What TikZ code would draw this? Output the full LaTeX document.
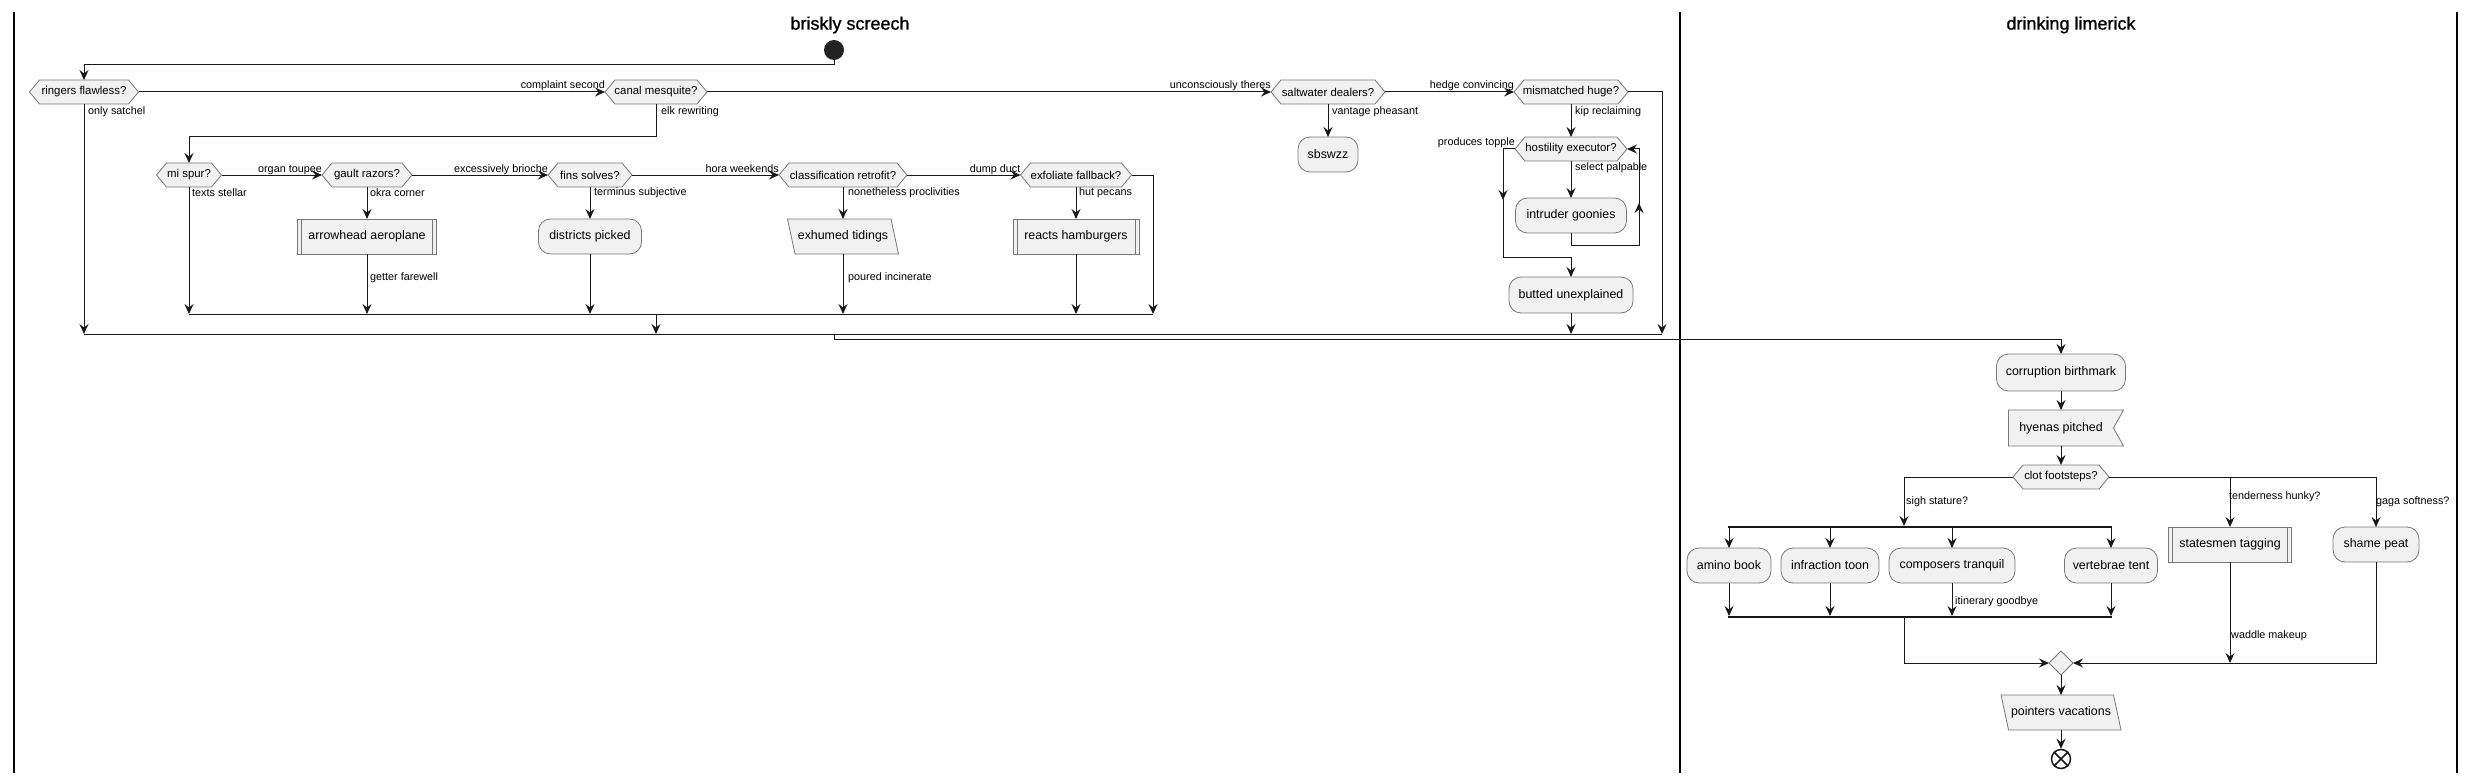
\documentclass[tikz,border=0pt]{standalone}
\usepackage{fontspec}
\setmainfont{Liberation Sans}
\newfontfamily\ttlfont[FakeBold=0.9]{Liberation Sans}
\usetikzlibrary{arrows.meta,backgrounds}
\definecolor{nfill}{HTML}{F1F1F1}
\definecolor{nline}{HTML}{181818}
\definecolor{nborder}{HTML}{777777}
\definecolor{startc}{HTML}{222222}
\tikzset{
 base/.style={inner sep=0pt, outer sep=0pt, align=center},
 actfont/.style={font=\fontsize{12.4}{14}\selectfont},
 act/.style={base, actfont, rectangle, rounded corners=12pt, draw=nborder, fill=nfill, line width=0.8pt, minimum height=35pt},
 sub/.style={base, actfont, rectangle, draw=nborder, fill=nfill, line width=0.8pt, minimum height=35pt},
 plainbox/.style={base, actfont, rectangle, minimum height=35pt},
 dec/.style={base, rectangle, minimum height=24pt, font=\fontsize{11.4}{13}\selectfont},
 shp/.style={draw=nborder, fill=nfill, line width=0.8pt},
 shpline/.style={draw=nborder, line width=0.8pt},
 lbl/.style={inner sep=0pt, font=\fontsize{10.8}{12}\selectfont},
 arr/.style={draw=nline, line width=1pt, -{Stealth[length=10pt,width=9pt,inset=3.5pt]}},
 ln/.style={draw=nline, line width=1pt},
 bar/.style={draw=nline, line width=2.2pt},
 lane/.style={draw=black, line width=1.5pt},
 ttl/.style={font=\ttlfont\fontsize{18}{21}\selectfont, inner sep=0pt},
}
\newcommand{\hexa}[4]{%
  \node[dec, minimum width=#3] (#1) at #2 {#4};
  \begin{pgfonlayer}{background}
  \path[shp] (#1.west) -- ([xshift=10pt]#1.north west) -- ([xshift=-10pt]#1.north east) -- (#1.east) -- ([xshift=-10pt]#1.south east) -- ([xshift=10pt]#1.south west) -- cycle;
  \end{pgfonlayer}}
\newcommand{\para}[4]{%
  \node[plainbox, minimum width=#3] (#1) at #2 {#4};
  \begin{pgfonlayer}{background}
  \path[shp] (#1.north west) -- ([xshift=-7.5pt]#1.north east) -- (#1.south east) -- ([xshift=7.5pt]#1.south west) -- cycle;
  \end{pgfonlayer}}
\newcommand{\subr}[4]{%
  \node[sub, minimum width=#3] (#1) at #2 {#4};
  \draw[shpline] ([xshift=4pt]#1.north west) -- ([xshift=4pt]#1.south west) ([xshift=-4pt]#1.north east) -- ([xshift=-4pt]#1.south east);}
\begin{document}
\begin{tikzpicture}[x=1pt,y=-1pt]
\useasboundingbox (0,0) rectangle (2474,781);
% lanes
\draw[lane] (14,12) -- (14,773);
\draw[lane] (1680,12) -- (1680,773);
\draw[lane] (2457,12) -- (2457,773);
\node[ttl] (t1) at (850,25) {briskly screech};
\node[ttl] (t2) at (2071,25) {drinking limerick};
% left lane nodes
\node[circle, fill=startc, minimum size=20pt, inner sep=0pt] (start) at (834,50) {};
\hexa{rf}{(84,92)}{109}{ringers flawless?}
\hexa{cm}{(656,92)}{102}{canal mesquite?}
\hexa{sd}{(1328,92)}{114}{saltwater dealers?}
\hexa{mh}{(1571,92)}{114}{mismatched huge?}
\hexa{he}{(1571,149)}{112}{hostility executor?}
\node[act, minimum width=60pt] (sb) at (1328,154.5) {sbswzz};
\node[act, minimum width=111pt] (ig) at (1571,215.5) {intruder goonies};
\node[act, minimum width=124pt, minimum height=36pt] (bu) at (1571,295) {butted unexplained};
\hexa{ms}{(189,175)}{65}{mi spur?}
\hexa{gr}{(367,175)}{90}{gault razors?}
\hexa{fs}{(590,175)}{84}{fins solves?}
\hexa{cr}{(843,175)}{128}{classification retrofit?}
\hexa{ef}{(1076,175)}{111}{exfoliate fallback?}
\subr{aa}{(367,236.5)}{139}{arrowhead aeroplane}
\node[act, minimum width=103pt] (dp) at (590,236.5) {districts picked};
\para{et}{(843,236.5)}{111}{exhumed tidings}
\subr{rh}{(1076,236.5)}{126}{reacts hamburgers}
% right lane nodes
\node[act, minimum width=129pt, minimum height=37pt] (cb) at (2061,372.5) {corruption birthmark};
\node[plainbox, minimum width=105pt, minimum height=36pt] (hp) at (2061,428) {hyenas pitched};
\begin{pgfonlayer}{background}
\path[shp] (hp.north west) -- ([xshift=10pt]hp.north east) -- (hp.east) -- ([xshift=10pt]hp.south east) -- (hp.south west) -- cycle;
\end{pgfonlayer}
\hexa{cf}{(2061,477)}{96}{clot footsteps?}
\node[act, minimum width=84pt] (ab) at (1729,565.5) {amino book};
\node[act, minimum width=98pt] (it) at (1830,565.5) {infraction toon};
\node[act, minimum width=126pt] (ct) at (1952,565.5) {composers tranquil};
\node[act, minimum width=93pt] (vt) at (2111,565.5) {vertebrae tent};
\subr{st}{(2230,544.5)}{123}{statesmen tagging}
\node[act, minimum width=86pt] (sp) at (2376,544.5) {shame peat};
\node[base, minimum width=24pt, minimum height=24pt] (md) at (2061,663) {};
\begin{pgfonlayer}{background}
\path[shp] (md.west) -- (md.north) -- (md.east) -- (md.south) -- cycle;
\end{pgfonlayer}
\para{pv}{(2061,712.5)}{120}{pointers vacations}
\node[circle, draw=nline, fill=white, line width=1.5pt, minimum size=19pt, inner sep=0pt] (end) at (2061,759) {};
\draw[draw=nline, line width=1.5pt] (end.north west) -- (end.south east) (end.north east) -- (end.south west);
% junction coordinates
\coordinate (m1) at (189,314);
\coordinate (m1e) at (1153,314);
\coordinate (m2) at (84,334);
\coordinate (m2e) at (1662,334);
\coordinate (fk1) at (1728,527);
\coordinate (fk2) at (2112,527);
\coordinate (jn1) at (1728,617);
\coordinate (jn2) at (2112,617);
% connectors left lane
\draw[arr] (start.south) -- (834,65) -| (rf.north);
\draw[arr] (rf.east) -- (cm.west);
\draw[arr] (rf.south) -- (m2);
\draw[arr] (cm.south) -- (656,137) -| (ms.north);
\draw[arr] (cm.east) -- (sd.west);
\draw[arr] (sd.south) -- (sb.north);
\draw[arr] (sd.east) -- (mh.west);
\draw[arr] (mh.east) -- (1662,92) -- (m2e);
\draw[arr] (mh.south) -- (he.north);
\draw[arr] (he.south) -- (ig.north);
\draw[arr] (ig.south) -- (1571,245) -- (1639,245) -- (1639,203);
\draw[arr] (1639,204) -- (1639,149) -- (he.east);
\draw[arr] (he.west) -- (1503,149) -- (1503,200);
\draw[arr] (1503,199) -- (1503,257) -- (1571,257) -- (bu.north);
\draw[arr] (bu.south) -- (1571,334);
\draw[arr] (ms.east) -- (gr.west);
\draw[arr] (ms.south) -- (m1);
\draw[arr] (gr.south) -- (aa.north);
\draw[arr] (aa.south) -- (367,314);
\draw[arr] (gr.east) -- (fs.west);
\draw[arr] (fs.south) -- (dp.north);
\draw[arr] (dp.south) -- (590,314);
\draw[arr] (fs.east) -- (cr.west);
\draw[arr] (cr.south) -- (et.north);
\draw[arr] (et.south) -- (843,314);
\draw[arr] (cr.east) -- (ef.west);
\draw[arr] (ef.south) -- (rh.north);
\draw[arr] (rh.south) -- (1076,314);
\draw[arr] (ef.east) -- (1153,175) -- (m1e);
\draw[ln] (m1) -- (m1e);
\draw[arr] (656,314) -- (656,334);
\draw[ln] (m2) -- (m2e);
\draw[arr] (834,334) -- (834,339) -- (2061,339) -- (cb.north);
% connectors right lane
\draw[arr] (cb.south) -- (hp.north);
\draw[arr] (hp.south) -- (cf.north);
\draw[arr] (cf.west) -| (1904,526);
\draw[arr] (cf.east) -| (sp.north);
\draw[arr] (2230,477) -- (st.north);
\draw[bar] (fk1) -- (fk2);
\draw[arr] (1729,528) -- (ab.north);
\draw[arr] (1830,528) -- (it.north);
\draw[arr] (1952,528) -- (ct.north);
\draw[arr] (2111,528) -- (vt.north);
\draw[arr] (ab.south) -- (1729,616);
\draw[arr] (it.south) -- (1830,616);
\draw[arr] (ct.south) -- (1952,616);
\draw[arr] (vt.south) -- (2111,616);
\draw[bar] (jn1) -- (jn2);
\draw[arr] (1904,618) -- (1904,663) -- (md.west);
\draw[arr] (st.south) -- (2230,663);
\draw[arr] (sp.south) -- (2376,663) -- (md.east);
\draw[arr] (md.south) -- (pv.north);
\draw[arr] (pv.south) -- (end.north);
% labels
\node[lbl, anchor=base east] (l1) at ([yshift=3pt]cm.west) {complaint second};
\node[lbl, anchor=west] (l2) at (88,112) {only satchel};
\node[lbl, anchor=west] (l3) at (661,112) {elk rewriting};
\node[lbl, anchor=base east] (l4) at ([yshift=3pt]sd.west) {unconsciously theres};
\node[lbl, anchor=west] (l5) at (1332,112) {vantage pheasant};
\node[lbl, anchor=base east] (l6) at ([yshift=3pt]mh.west) {hedge convincing};
\node[lbl, anchor=west] (l7) at (1575,112) {kip reclaiming};
\node[lbl, anchor=west] (l8) at (1575,168) {select palpable};
\node[lbl, anchor=base east] (l9) at ([yshift=3pt]he.west) {produces topple};
\node[lbl, anchor=base east] (l10) at ([yshift=3pt]gr.west) {organ toupee};
\node[lbl, anchor=west] (l11) at (192,193) {texts stellar};
\node[lbl, anchor=west] (l12) at (370,193) {okra corner};
\node[lbl, anchor=west] (l13) at (370,278) {getter farewell};
\node[lbl, anchor=base east] (l14) at ([yshift=3pt]fs.west) {excessively brioche};
\node[lbl, anchor=west] (l15) at (594,193) {terminus subjective};
\node[lbl, anchor=base east] (l16) at ([yshift=3pt]cr.west) {hora weekends};
\node[lbl, anchor=west] (l17) at (848,193) {nonetheless proclivities};
\node[lbl, anchor=west] (l18) at (848,278) {poured incinerate};
\node[lbl, anchor=base east] (l19) at ([yshift=3pt]ef.west) {dump duct};
\node[lbl, anchor=west] (l20) at (1079,193) {hut pecans};
\node[lbl, anchor=west] (l21) at (1906,502) {sigh stature?};
\node[lbl, anchor=west] (l22) at (2229,497) {tenderness hunky?};
\node[lbl, anchor=west] (l23) at (2376,502) {gaga softness?};
\node[lbl, anchor=west] (l24) at (1955,602) {itinerary goodbye};
\node[lbl, anchor=west] (l25) at (2231,636) {waddle makeup};
\end{tikzpicture}
\end{document}
